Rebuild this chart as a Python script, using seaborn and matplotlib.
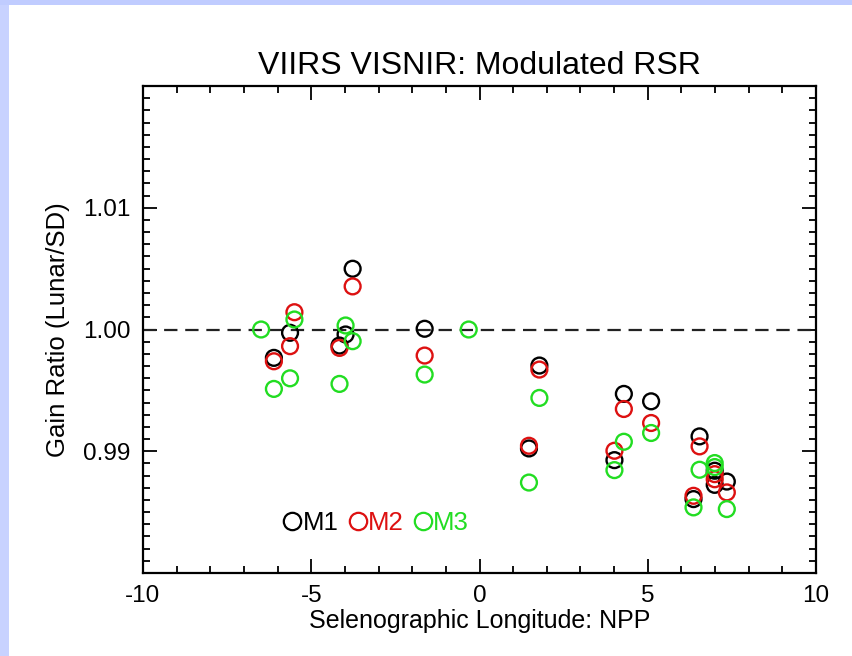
import matplotlib
matplotlib.use("Agg")
import matplotlib.pyplot as plt
from matplotlib.lines import Line2D
from matplotlib.patches import Rectangle
from matplotlib.ticker import FixedLocator, MultipleLocator, FormatStrFormatter
import numpy as np
import pandas as pd
import seaborn as sns

# Gain ratio (Lunar/SD) against selenographic longitude for three VISNIR bands
m1_lon = [-6.11, -5.63, -4.16, -3.98, -3.77, -1.63, 1.47, 1.78, 4.01, 4.29,
          5.10, 6.36, 6.54, 6.99, 6.99, 7.35]
m1_gain = [0.99767, 0.99973, 0.99868, 0.99959, 1.00499, 1.00006, 0.99023,
           0.99704, 0.98927, 0.99471, 0.99410, 0.98607, 0.99122, 0.98840,
           0.98724, 0.98751]

m2_lon = [-6.11, -5.63, -5.50, -4.16, -3.77, -1.63, 1.47, 1.78, 4.01, 4.29,
          5.10, 6.36, 6.54, 6.99, 6.99, 7.35]
m2_gain = [0.99739, 0.99863, 1.00142, 0.99849, 1.00354, 0.99786, 0.99045,
           0.99671, 0.99004, 0.99347, 0.99232, 0.98634, 0.99040, 0.98812,
           0.98770, 0.98662]

m3_lon = [-6.49, -6.11, -5.63, -5.50, -4.16, -3.98, -3.77, -1.63, -0.32, 1.47,
          1.78, 4.01, 4.29, 5.10, 6.36, 6.54, 6.99, 6.99, 7.35]
m3_gain = [1.00000, 0.99512, 0.99599, 1.00082, 0.99553, 1.00033, 0.99904,
           0.99630, 1.00000, 0.98743, 0.99438, 0.98845, 0.99078, 0.99150,
           0.98539, 0.98848, 0.98903, 0.98870, 0.98525]

bands = ["M1", "M2", "M3"]
band_colors = {"M1": "#000000", "M2": "#DD1111", "M3": "#22DD22"}

x_ticks = [-10, -5, 0, 5, 10]
y_ticks = [0.99, 1.00, 1.01]

df = pd.concat([
    pd.DataFrame({"lon": m1_lon, "gain": m1_gain, "band": "M1"}),
    pd.DataFrame({"lon": m2_lon, "gain": m2_gain, "band": "M2"}),
    pd.DataFrame({"lon": m3_lon, "gain": m3_gain, "band": "M3"}),
], ignore_index=True)

sns.set_theme(style="white")
plt.rcParams["font.family"] = ["Liberation Sans", "DejaVu Sans"]
plt.rcParams["axes.unicode_minus"] = False
plt.rcParams["text.color"] = "black"
plt.rcParams["axes.labelcolor"] = "black"
plt.rcParams["xtick.color"] = "black"
plt.rcParams["ytick.color"] = "black"

fig = plt.figure(figsize=(8.52, 6.56), dpi=100)
fig.patch.set_facecolor("white")

# light blue page border along the top and left edges
fig.patches.append(Rectangle((0, 0), 9 / 852, 1, transform=fig.transFigure,
                             facecolor="#C8D2FF", edgecolor="none", zorder=0))
fig.patches.append(Rectangle((0, 1 - 5 / 656), 1, 5 / 656, transform=fig.transFigure,
                             facecolor="#C0CCFF", edgecolor="none", zorder=0))

ax = fig.add_axes([143 / 852, 1 - 573 / 656, 673 / 852, 487 / 656])

ax.axhline(1.0, color="#222222", lw=1.6, ls=(0, (6, 3.5)), zorder=1)

for b in bands:
    sub = df[df["band"] == b]
    sns.scatterplot(data=sub, x="lon", y="gain", ax=ax, marker="o", s=130,
                    color=band_colors[b], facecolors="none",
                    edgecolor=band_colors[b], linewidth=1.7, zorder=3,
                    legend=False)

ax.set_xlim(-10, 10)
ax.set_ylim(0.98, 1.02)
ax.xaxis.set_major_locator(FixedLocator(x_ticks))
ax.xaxis.set_minor_locator(MultipleLocator(1))
ax.yaxis.set_major_locator(FixedLocator(y_ticks))
ax.yaxis.set_minor_locator(MultipleLocator(0.001))
ax.yaxis.set_major_formatter(FormatStrFormatter("%.2f"))

ax.tick_params(which="both", direction="in", top=True, right=True,
               bottom=True, left=True, color="black", width=1.3)
ax.tick_params(which="major", length=10, labelsize=17.5, pad=9)
ax.tick_params(which="minor", length=5)
for s in ax.spines.values():
    s.set_color("black")
    s.set_linewidth(1.6)

ax.set_title("VIIRS VISNIR: Modulated RSR", fontsize=23, pad=8.6, color="black")
ax.set_xlabel("Selenographic Longitude: NPP", fontsize=18, labelpad=1)
ax.set_ylabel("Gain Ratio (Lunar/SD)", fontsize=18.5, labelpad=9)

handles = [Line2D([], [], ls="none", marker="o", markersize=12.5,
                  markerfacecolor="none", markeredgecolor=band_colors[b],
                  markeredgewidth=1.6) for b in bands]
leg = ax.legend(handles, bands, loc="center left", bbox_to_anchor=(0.195, 0.103),
                ncol=3, frameon=False, fontsize=18.5, handlelength=0.6,
                handletextpad=0.1, columnspacing=0.45, borderaxespad=0)
for t, b in zip(leg.get_texts(), bands):
    t.set_color(band_colors[b])

fig.savefig("out.png", dpi=100)
